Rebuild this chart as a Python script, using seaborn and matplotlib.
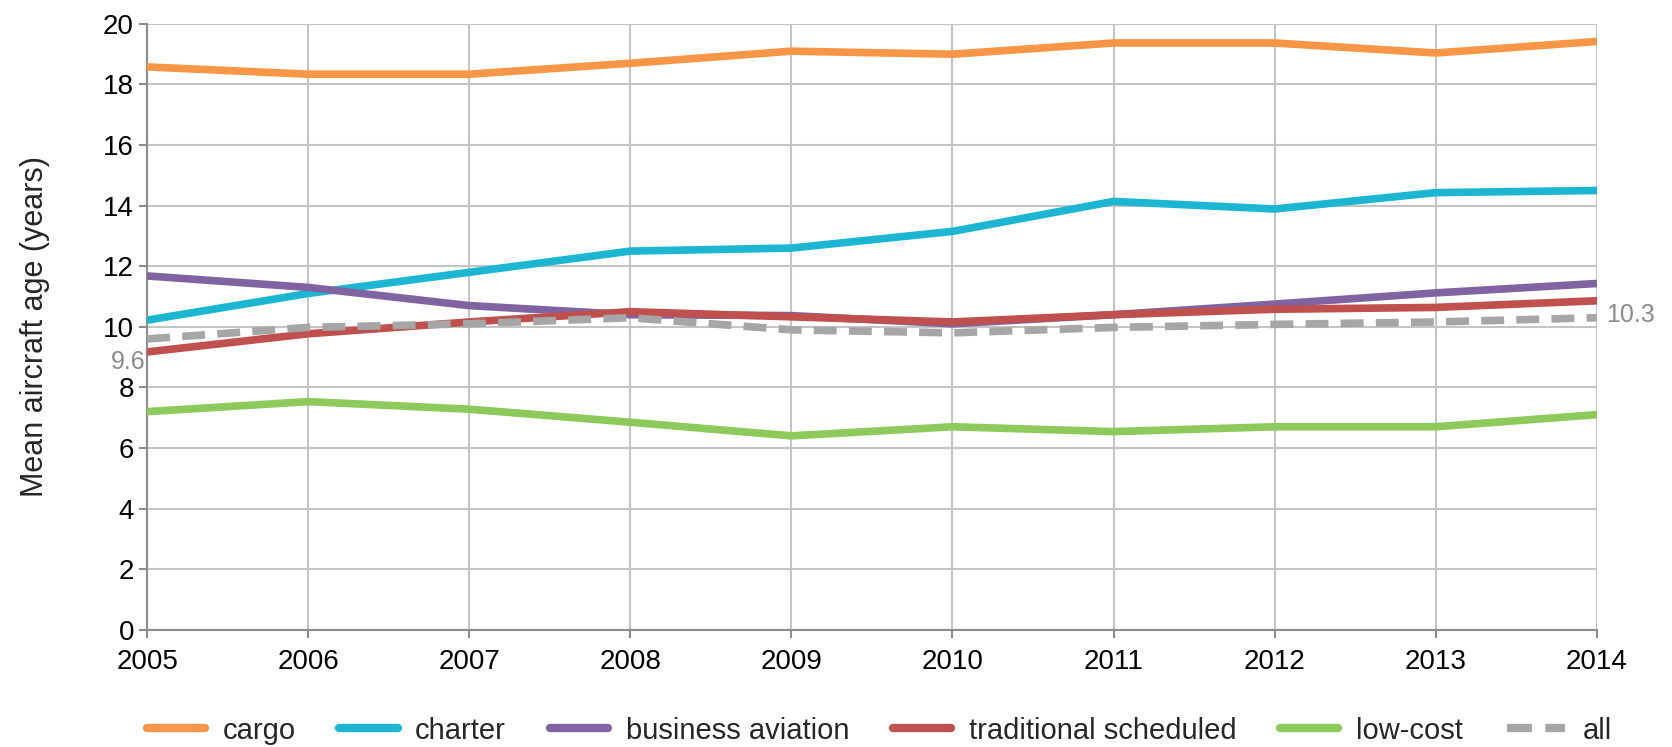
import pandas as pd
import matplotlib.pyplot as plt
import seaborn as sns

# Values
years = [2005, 2006, 2007, 2008, 2009, 2010, 2011, 2012, 2013, 2014]
cargo = [18.58, 18.34, 18.34, 18.7, 19.1, 19.0, 19.37, 19.37, 19.04, 19.42]
charter = [10.22, 11.1, 11.8, 12.5, 12.6, 13.15, 14.14, 13.89, 14.43, 14.5]
business_aviation = [11.68, 11.3, 10.7, 10.4, 10.37, 10.1, 10.4, 10.75, 11.12, 11.43]
traditional_scheduled = [9.17, 9.77, 10.16, 10.5, 10.33, 10.16, 10.4, 10.58, 10.64, 10.86]
low_cost = [7.2, 7.53, 7.28, 6.85, 6.4, 6.7, 6.54, 6.7, 6.7, 7.1]
all_ops = [9.6, 9.98, 10.1, 10.3, 9.9, 9.8, 9.98, 10.08, 10.16, 10.3]

series = {
    'cargo': cargo,
    'charter': charter,
    'business aviation': business_aviation,
    'traditional scheduled': traditional_scheduled,
    'low-cost': low_cost,
    'all': all_ops,
}
colors = {
    'cargo': '#F79646',
    'charter': '#1DB6D2',
    'business aviation': '#8064A2',
    'traditional scheduled': '#C0504D',
    'low-cost': '#8DC95B',
    'all': '#A6A6A6',
}

df = pd.DataFrame(
    [(y, name, v) for name, vals in series.items() for y, v in zip(years, vals)],
    columns=['year', 'segment', 'age'],
)

sns.set_style('white')
plt.rcParams['font.family'] = ['Liberation Sans Narrow', 'Liberation Sans', 'DejaVu Sans']

fig, ax = plt.subplots(figsize=(16.72, 7.47), dpi=100)
fig.subplots_adjust(left=0.088, right=0.955, top=0.968, bottom=0.157)

for name in series:
    sub = df[df['segment'] == name]
    sns.lineplot(data=sub, x='year', y='age', ax=ax, color=colors[name],
                 linewidth=5.5, label=name, zorder=3)
    if name == 'all':
        ax.lines[-1].set_dashes((3, 1.6))

# end labels for 'all'
ax.text(years[0] - 0.01, all_ops[0] - 0.75, f'{all_ops[0]:.1f}', ha='right', va='center',
        color='#8C8C8C', fontsize=18)
ax.text(years[-1] + 0.06, all_ops[-1] + 0.1, f'{all_ops[-1]:.1f}', ha='left', va='center',
        color='#8C8C8C', fontsize=18)

ax.set_xlim(2005, 2014)
ax.set_ylim(0, 20)
ax.set_xticks(years)
ax.set_yticks(range(0, 21, 2))
ax.grid(True, color='#C4C4C4', linewidth=1.5, zorder=0)
ax.set_axisbelow(True)
for side in ['top', 'right']:
    ax.spines[side].set_visible(False)
for side in ['left', 'bottom']:
    ax.spines[side].set_color('#8C8C8C')
    ax.spines[side].set_linewidth(1.5)
ax.tick_params(axis='both', labelsize=20, colors='#8C8C8C', labelcolor='black',
               length=6, width=1.5, direction='out', left=True, bottom=True)
ax.tick_params(axis='x', pad=8)
ax.set_xlabel('')
ax.set_ylabel('Mean aircraft age (years)', fontsize=22, labelpad=38)

leg = ax.legend(loc='upper center', bbox_to_anchor=(0.505, -0.1), ncol=6, frameon=False,
                fontsize=21, handlelength=2.0, columnspacing=1.5, handletextpad=0.6)
for h in leg.get_lines():
    h.set_linewidth(6)

fig.savefig('out.png', dpi=100)
